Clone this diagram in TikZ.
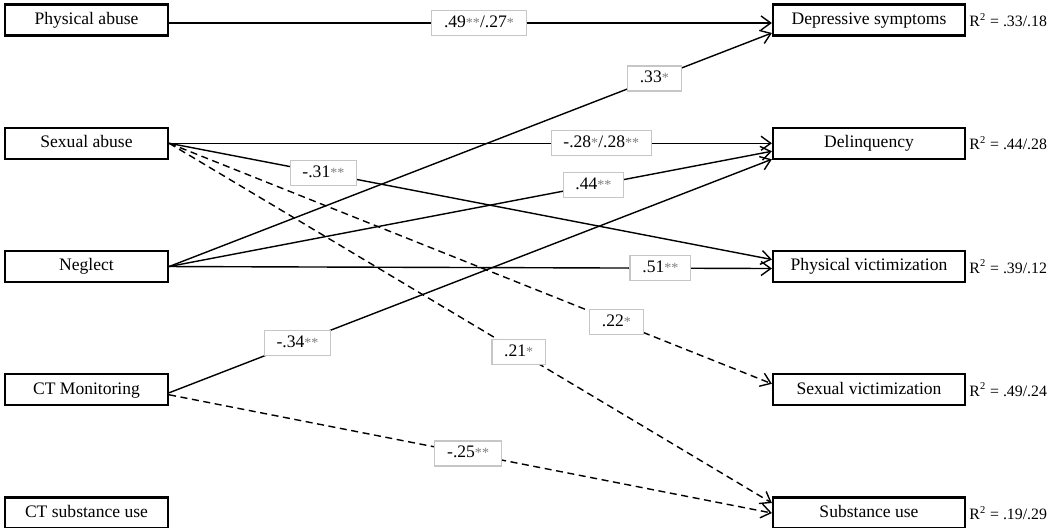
\documentclass[tikz,border=0pt]{standalone}
\usepackage{fontspec}
\setmainfont{Liberation Serif}
\usepackage{xcolor}
\usetikzlibrary{positioning}
\usetikzlibrary{arrows.meta}
\usetikzlibrary{calc}
\tikzset{
  varbox/.style={%
    draw,
    line width=1.3pt,
    minimum height=0.62cm,
    text height=7pt,
    text depth=2pt,
    inner sep=0,
  },
  coef/.style={%
    solid,
    draw=gray!45,
    fill=white,
    line width=0.7pt,
    minimum height=0.5cm,
    text height=7pt,
    text depth=2pt,
    inner xsep=7pt,
    inner ysep=0,
  },
  rsq/.style={%
    right=0.06cm of #1,
    inner sep=0,
    font=\fontsize{9}{10}\selectfont,
  },
  link/.style={%
    line width=0.8pt,
    -{Straight Barb[length=5.5pt,width=8pt]},
  },
  dashlink/.style={%
    link,
    dash pattern=on 4pt off 2.6pt,
  }
}
\newcommand\St[1]{{\color{gray}\fontsize{8}{8}\selectfont#1}}% significance stars

\begin{document}
\begin{tikzpicture}[x=0.02cm,y=-0.02cm,font=\fontsize{10}{12}\selectfont]
    \useasboundingbox (0,0) rectangle (1050,527);
    % predictors
    \node (pa) [varbox,minimum width=3.26cm] at (86.5,20) {Physical abuse};
    \node (sa) [varbox,minimum width=3.26cm,below=1.8cm of pa] {Sexual abuse};
    \node (ng) [varbox,minimum width=3.26cm,below=1.8cm of sa] {Neglect};
    \node (ctm) [varbox,minimum width=3.26cm,below=1.8cm of ng] {CT Monitoring};
    \node (ctsu) [varbox,minimum width=3.26cm,below=1.8cm of ctm] {CT substance use};
    % outcomes
    \node (ds) [varbox,minimum width=3.84cm] at (869,20) {Depressive symptoms};
    \node (del) [varbox,minimum width=3.84cm,below=1.8cm of ds] {Delinquency};
    \node (pv) [varbox,minimum width=3.84cm,below=1.8cm of del] {Physical victimization};
    \node (sv) [varbox,minimum width=3.84cm,below=1.8cm of pv] {Sexual victimization};
    \node (su) [varbox,minimum width=3.84cm,below=1.8cm of sv] {Substance use};
    \node (r2ds) [rsq=ds] {R\textsuperscript{2} = .33/.18};
    \node (r2del) [rsq=del] {R\textsuperscript{2} = .44/.28};
    \node (r2pv) [rsq=pv] {R\textsuperscript{2} = .39/.12};
    \node (r2sv) [rsq=sv] {R\textsuperscript{2} = .49/.24};
    \node (r2su) [rsq=su] {R\textsuperscript{2} = .19/.29};
    % paths
    \draw [link] ($(pa.east)+(0,3)$) -- node[coef,pos=.514] {.49\St{**}/.27\St{*}} ($(ds.west)+(0,3)$);
    \draw [link] (ng.east) -- node[coef,pos=.805] {.33\St{*}} ($(ds.west)+(0,13)$);
    \draw [link] (sa.east) -- node[coef,pos=.717] {-.28\St{*}/.28\St{**}} (del.west);
    \draw [link] (ng.east) -- node[coef,pos=.704] {.44\St{**}} ($(del.west)+(0,8)$);
    \draw [link] ($(ctm.east)+(0,3)$) -- node[coef,pos=.213] {-.34\St{**}} ($(del.west)+(0,16)$);
    \draw [link] (sa.east) -- node[coef,pos=.256] {-.31\St{**}} ($(pv.west)+(0,-7)$);
    \draw [link] (ng.east) -- node[coef,pos=.815] {.51\St{**}} ($(pv.west)+(0,2)$);
    \draw [dashlink] (sa.east) -- node[coef,pos=.742] {.22\St{*}} ($(sv.west)+(0,-6)$);
    \draw [dashlink] (sa.east) -- node[coef,pos=.58] {.21\St{*}} ($(su.west)+(0,-10)$);
    \draw [dashlink] ($(ctm.east)+(0,5)$) -- node[coef,pos=.496] {-.25\St{**}} (su.west);
\end{tikzpicture}
\end{document}
